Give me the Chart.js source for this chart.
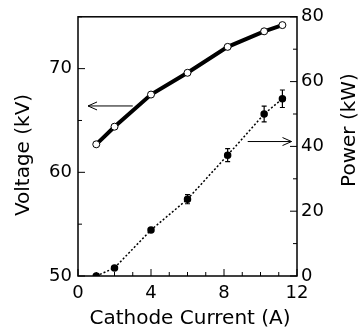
<!DOCTYPE html>
<html lang="en">
<head>
    <meta charset="UTF-8">
    <script src="https://cdn.jsdelivr.net/npm/chart.js@4.4.0/dist/chart.umd.min.js"></script>
    <title>Cathode current</title>
    <style>
        body { margin: 0; background: #fff; }
        #wrap { width: 362px; height: 329px; }
    </style>
</head>
<body>
    <div id="wrap"><canvas id="myChart" width="362" height="329"></canvas></div>
    <script>
        // Werte
        const current = [1.0, 2.0, 4.0, 6.0, 8.2, 10.2, 11.2];
        const voltage = [62.7, 64.4, 67.5, 69.6, 72.1, 73.6, 74.2];
        const power = [0, 2.5, 14.2, 23.7, 37.3, 50.0, 54.7];
        const powerErr = [0, 0, 0, 1.4, 2.0, 2.4, 2.7];

        // Pfeile: [x1, x2, y, Achse]
        const arrows = [
            [3.0, 0.55, 66.4, 'y'],
            [9.3, 11.7, 41.5, 'y2']
        ];

        const xTitle = 'Cathode Current (A)';
        const yTitle = 'Voltage (kV)';
        const y2Title = 'Power (kW)';

        const fontFam = "'DejaVu Sans', sans-serif";

        // Ticks nach innen, Rahmen, Fehlerbalken, Pfeile, Achsentitel
        const extras = {
            id: 'extras',
            afterDatasetsDraw(chart) {
                const c = chart.ctx;
                const a = chart.chartArea;
                const sx = chart.scales.x, sy = chart.scales.y, sy2 = chart.scales.y2;
                c.save();
                c.strokeStyle = '#000';
                c.lineWidth = 1.5;
                c.strokeRect(a.left, a.top, a.right - a.left, a.bottom - a.top);

                c.lineWidth = 1;
                for (let v = 0; v <= 12; v++) {
                    const px = sx.getPixelForValue(v);
                    const len = v % 4 === 0 ? 7 : 4;
                    c.beginPath(); c.moveTo(px, a.bottom); c.lineTo(px, a.bottom - len); c.stroke();
                }
                for (let v = 50; v <= 75; v += 5) {
                    const py = sy.getPixelForValue(v);
                    const len = v % 10 === 0 ? 7 : 4;
                    c.beginPath(); c.moveTo(a.left, py); c.lineTo(a.left + len, py); c.stroke();
                }
                for (let v = 0; v <= 80; v += 10) {
                    const py = sy2.getPixelForValue(v);
                    const len = v % 20 === 0 ? 7 : 4;
                    c.beginPath(); c.moveTo(a.right, py); c.lineTo(a.right - len, py); c.stroke();
                }

                // Fehlerbalken
                c.lineWidth = 1.2;
                current.forEach((x, i) => {
                    if (!powerErr[i]) return;
                    const px = sx.getPixelForValue(x);
                    const y1 = sy2.getPixelForValue(power[i] - powerErr[i]);
                    const y2 = sy2.getPixelForValue(power[i] + powerErr[i]);
                    c.beginPath();
                    c.moveTo(px, y1); c.lineTo(px, y2);
                    c.moveTo(px - 2.5, y1); c.lineTo(px + 2.5, y1);
                    c.moveTo(px - 2.5, y2); c.lineTo(px + 2.5, y2);
                    c.stroke();
                });

                // Pfeile
                c.lineWidth = 1;
                arrows.forEach(ar => {
                    const x1 = sx.getPixelForValue(ar[0]);
                    const x2 = sx.getPixelForValue(ar[1]);
                    const py = chart.scales[ar[3]].getPixelForValue(ar[2]);
                    const dir = x2 > x1 ? 1 : -1;
                    c.beginPath();
                    c.moveTo(x1, py); c.lineTo(x2, py);
                    c.moveTo(x2 - dir * 9, py - 4); c.lineTo(x2, py); c.lineTo(x2 - dir * 9, py + 4);
                    c.stroke();
                });

                // Achsentitel (rechts auch von unten nach oben, wie im Original)
                c.fillStyle = '#000';
                c.font = '20px ' + fontFam;
                c.textAlign = 'center';
                c.textBaseline = 'middle';
                c.fillText(xTitle, 190, 319);
                c.save();
                c.translate(24, 155);
                c.rotate(-Math.PI / 2);
                c.fillText(yTitle, 0, 0);
                c.restore();
                c.save();
                c.translate(350, 130);
                c.rotate(-Math.PI / 2);
                c.fillText(y2Title, 0, 0);
                c.restore();
                c.restore();
            }
        };

        const ctx = document.getElementById('myChart').getContext('2d');
        const myChart = new Chart(ctx, {
            type: 'line',
            data: {
                datasets: [{
                    label: 'Voltage',
                    data: current.map((x, i) => ({ x: x, y: voltage[i] })),
                    yAxisID: 'y',
                    borderColor: '#000',
                    borderWidth: 4,
                    pointRadius: 3.5,
                    pointBackgroundColor: '#fff',
                    pointBorderColor: '#000',
                    pointBorderWidth: 1,
                    tension: 0
                }, {
                    label: 'Power',
                    data: current.map((x, i) => ({ x: x, y: power[i] })),
                    yAxisID: 'y2',
                    borderColor: '#000',
                    borderWidth: 1.5,
                    borderDash: [2, 2],
                    pointRadius: 3,
                    pointBackgroundColor: '#000',
                    pointBorderColor: '#000',
                    tension: 0
                }]
            },
            options: {
                responsive: false,
                animation: false,
                layout: { padding: { top: 16, left: 0, right: 0, bottom: 0 } },
                plugins: {
                    legend: { display: false },
                    tooltip: { enabled: false }
                },
                scales: {
                    x: {
                        type: 'linear',
                        position: 'bottom',
                        min: 0, max: 12,
                        afterFit(s) { s.height = 53; },
                        grid: { display: false, drawTicks: false },
                        border: { display: false },
                        ticks: { stepSize: 4, color: '#000', padding: 7, font: { family: fontFam, size: 18 } }
                    },
                    y: {
                        position: 'left',
                        min: 50, max: 75,
                        afterFit(s) { s.width = 78; },
                        grid: { display: false, drawTicks: false },
                        border: { display: false },
                        ticks: { stepSize: 10, includeBounds: false, color: '#000', padding: 6, font: { family: fontFam, size: 18 } }
                    },
                    y2: {
                        position: 'right',
                        min: 0, max: 80,
                        afterFit(s) { s.width = 65; },
                        grid: { display: false, drawTicks: false },
                        border: { display: false },
                        ticks: { stepSize: 20, color: '#000', padding: 4, font: { family: fontFam, size: 18 } }
                    }
                }
            },
            plugins: [extras]
        });
    </script>
</body>
</html>
